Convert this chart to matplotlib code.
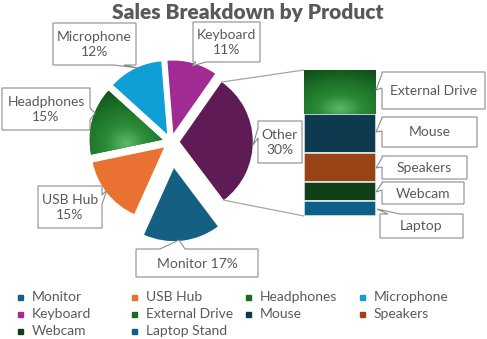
import matplotlib.pyplot as plt
import numpy as np
from matplotlib.patches import Polygon, Rectangle, ConnectionPatch
from matplotlib.colors import LinearSegmentedColormap

plt.rcParams['font.family'] = ['Lato', 'DejaVu Sans']

# data
pie_labels = ['Monitor', 'USB Hub', 'Headphones', 'Microphone', 'Keyboard', 'Other']
pie_values = [17, 15, 15, 12, 11, 30]
pie_colors = ['#156082', '#e97132', '#196b24', '#0f9ed5', '#a02b93', '#5e1b56']
pie_explode = [0.36, 0.12, 0.12, 0.12, 0.12, 0.12]

bar_labels = ['External Drive', 'Mouse', 'Speakers', 'Webcam', 'Laptop Stand']
bar_short = ['External Drive', 'Mouse', 'Speakers', 'Webcam', 'Laptop']
bar_values = [9, 8, 6, 4, 3]
bar_colors = ['#196b24', '#0e3a50', '#9a4314', '#0f4016', '#0b6089']

legend_names = pie_labels[:5] + bar_labels
legend_colors = pie_colors[:5] + bar_colors

TXT = '#595959'
W, H = 487, 339
fig = plt.figure(figsize=(W / 100, H / 100), dpi=100)

# overlay in pixel coords for title, callouts, legend
ov = fig.add_axes([0, 0, 1, 1])
ov.set_xlim(0, W)
ov.set_ylim(H, 0)
ov.axis('off')
ov.set_zorder(5)

green_glow = LinearSegmentedColormap.from_list(
    'glow', [(0, '#5cb868'), (0.3, '#2a8a36'), (0.65, '#1b6d26'), (1, '#0f4a16')])


def glow(ax, patch, fy):
    bb = patch.get_path().get_extents(patch.get_patch_transform())
    x0, y0, x1, y1 = bb.x0, bb.y0, bb.x1, bb.y1
    gx, gy = (x0 + x1) / 2, y0 + fy * (y1 - y0)
    xx, yy = np.meshgrid(np.linspace(x0, x1, 200), np.linspace(y0, y1, 200))
    d = np.hypot((xx - gx) / (x1 - x0), (yy - gy) / (y1 - y0))
    d = d / d.max()
    im = ax.imshow(d, extent=(x0, x1, y0, y1), origin='lower', cmap=green_glow,
                   aspect='auto', zorder=patch.get_zorder() + 0.1)
    im.set_clip_path(patch)


# pie
cx, cy, R, L = 171, 142, 73, 1.5
pax = fig.add_axes([(cx - L * R) / W, (H - cy - L * R) / H, 2 * L * R / W, 2 * L * R / H])
wedges, _ = pax.pie(pie_values, colors=pie_colors, explode=pie_explode, startangle=-53,
                    counterclock=False, wedgeprops=dict(linewidth=0))
glow(pax, wedges[2], 0.18)
pax.set_xlim(-L, L)
pax.set_ylim(-L, L)
pax.set_aspect('equal')
pax.axis('off')

# bar of "Other"
bax = fig.add_axes([304 / W, (H - 216) / H, 72 / W, 146 / H])
bottoms = sum(bar_values) - np.cumsum(bar_values)
bars = bax.bar([0] * len(bar_values), bar_values, width=1, bottom=bottoms,
               color=bar_colors, edgecolor='#dfe6ea', linewidth=1.2)
glow(bax, bars[0], 0.12)
bax.set_xlim(-0.5, 0.5)
bax.set_ylim(0, sum(bar_values))
bax.axis('off')

# connector lines
other = wedges[-1]
ox, oy = other.center
for ang, yb in [(other.theta2, sum(bar_values)), (other.theta1, 0)]:
    pa = (ox + other.r * np.cos(np.radians(ang)), oy + other.r * np.sin(np.radians(ang)))
    con = ConnectionPatch(xyA=pa, coordsA=pax.transData, xyB=(-0.5, yb), coordsB=bax.transData,
                          color='#a6a6a6', lw=0.9)
    fig.add_artist(con)


def callout(text, box, side, base, tip, fs=10):
    x0, y0, x1, y1 = box
    a, b = base
    if side == 'left':
        pts = [(x0, y0), (x1, y0), (x1, y1), (x0, y1), (x0, b), tip, (x0, a)]
    elif side == 'right':
        pts = [(x0, y0), (x1, y0), (x1, a), tip, (x1, b), (x1, y1), (x0, y1)]
    elif side == 'top':
        pts = [(x0, y0), (a, y0), tip, (b, y0), (x1, y0), (x1, y1), (x0, y1)]
    else:
        pts = [(x0, y0), (x1, y0), (x1, y1), (b, y1), tip, (a, y1), (x0, y1)]
    ov.add_patch(Polygon(pts, closed=True, fc='white', ec='#8c8c8c', lw=0.8))
    ov.text((x0 + x1) / 2, (y0 + y1) / 2 + 0.5, text, ha='center', va='center',
            color=TXT, fontsize=fs, linespacing=1.25)


pct = [f'{v / sum(pie_values):.0%}' for v in pie_values]
callout(f'{pie_labels[0]} {pct[0]}', (136, 249, 258, 277), 'top', (160, 185), (179, 240))
callout(f'{pie_labels[1]}\n{pct[1]}', (38, 186, 102, 228), 'right', (195, 204), (107, 190))
callout(f'{pie_labels[2]}\n{pct[2]}', (2, 88, 90, 130), 'right', (108, 120), (95, 113))
callout(f'{pie_labels[3]}\n{pct[3]}', (53, 23, 136, 65), 'bottom', (114, 124), (138, 68))
callout(f'{pie_labels[4]}\n{pct[4]}', (193, 22, 260, 62), 'bottom', (196, 206), (192, 66))
callout(f'{pie_labels[5]}\n{pct[5]}', (258, 121, 302, 163), 'left', (128, 138), (253, 145))

bar_boxes = [(382, 72, 485, 109), (382, 117, 477, 147), (382, 156, 467, 179),
             (382, 182, 464, 204)]
bar_tips = [(376, 90), (376, 132), (376, 168), (376, 192)]
bar_bases = [(74, 88), (118, 131), (158, 167), (183, 190)]
for t, bx, bs, tp in zip(bar_short[:4], bar_boxes, bar_bases, bar_tips):
    callout(t, bx, 'left', bs, tp)
callout(bar_short[4], (380, 214, 463, 238), 'top', (388, 400), (377, 209))

# title
ov.text(248, 12, 'Sales Breakdown by Product', ha='center', va='center',
        fontsize=15, fontweight='heavy', color=TXT)

# legend
for i, (name, col) in enumerate(zip(legend_names, legend_colors)):
    r, c = divmod(i, 4)
    lx, ly = 18 + 114 * c, 297 + 17 * r
    ov.add_patch(Rectangle((lx, ly - 2.5), 5, 5, color=col))
    ov.text(lx + 14, ly, name, ha='left', va='center', fontsize=10, color=TXT)

plt.savefig('out.png', dpi=100)
